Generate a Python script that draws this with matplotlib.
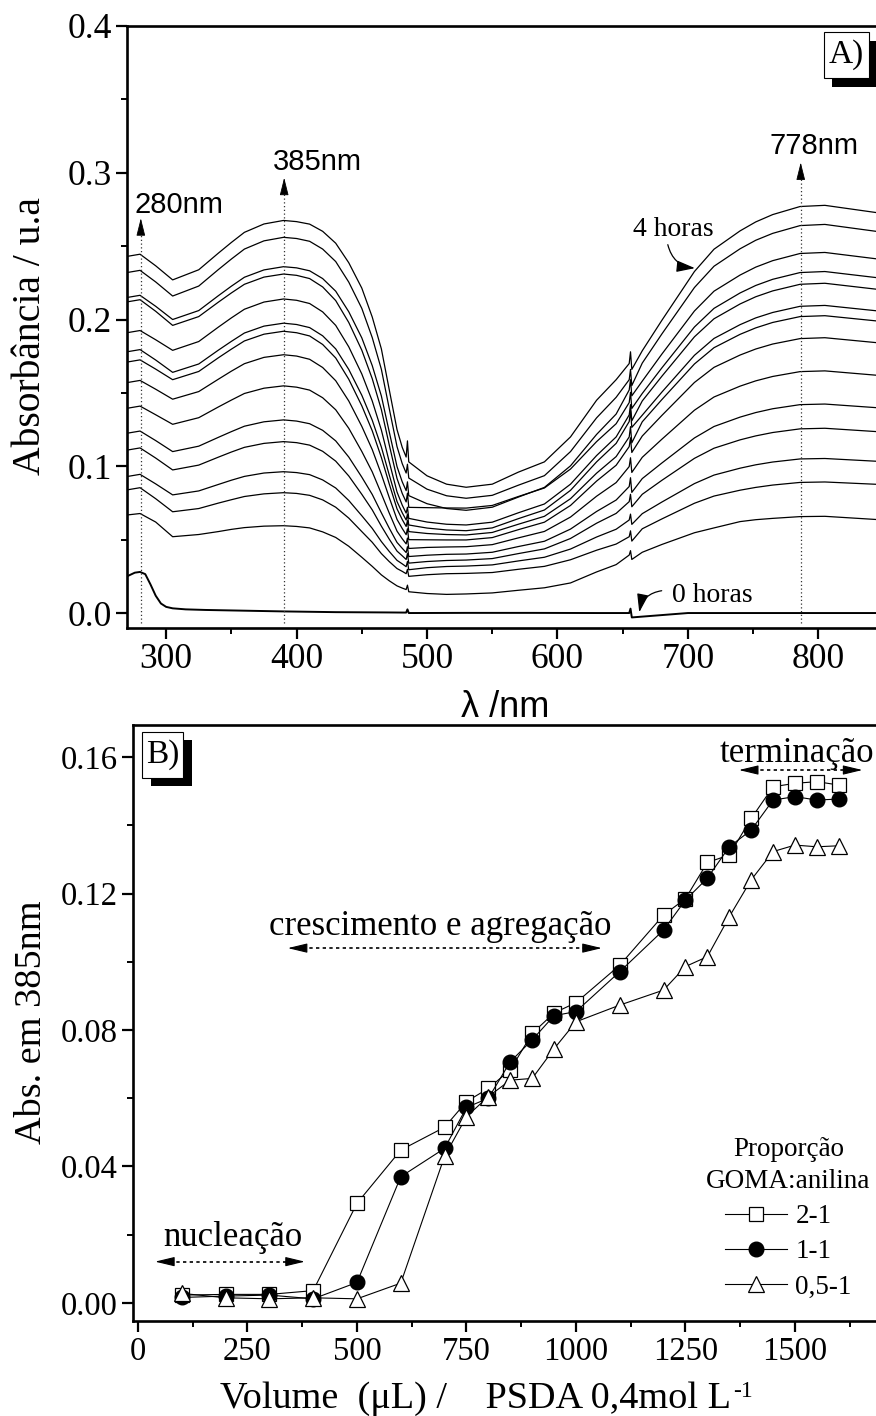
import matplotlib
matplotlib.use('Agg')
import matplotlib.pyplot as plt
from matplotlib.patches import Rectangle
from matplotlib.ticker import MultipleLocator, FormatStrFormatter

plt.rcParams['font.family'] = ['Liberation Serif', 'DejaVu Serif']
SANS = ['Liberation Sans', 'DejaVu Sans']

# ---- panel A: UV-vis spectra, 0 h ... 4 h ----
wl = [270, 280, 292, 305, 325, 340, 350, 360, 375, 390,
      400, 410, 420, 430, 440, 450, 458, 465, 471, 477, 481,
      484, 485, 486, 500, 515, 530, 550, 570, 590, 610, 630, 645,
      655, 656, 657, 665, 680, 705, 720, 740, 752, 765, 786, 805, 845]

t01 = [.243, .2445, .2366, .227, .2339, .2452, .2525, .2594, .2651, .2675,
       .2667, .2650, .2601, .2520, .2387, .2214, .2017, .1800, .1524, .1250, .1129,
       .1063, .1173, .103, .0935, .0878, .0857, .0878, .0960, .1030, .1200, .1450, .1590,
       .170, .178, .166, .1787, .1994, .2327, .2479, .2604, .2665, .2715, .277, .2778, .2728]
t02 = [.232, .2335, .2256, .216, .2228, .234, .2412, .248, .2536, .256,
       .2552, .2533, .2480, .2395, .2255, .2076, .1877, .1661, .1395, .1134, .1018,
       .0954, .1014, .092, .0844, .0799, .0782, .0802, .0871, .0936, .1100, .1330, .1470,
       .159, .166, .155, .1703, .1901, .2218, .2363, .2482, .2540, .2587, .264, .2648, .2600]
t03 = [.215, .2165, .209, .200, .2061, .2162, .2227, .2288, .2338, .236,
       .2352, .2332, .2279, .2193, .2053, .1875, .1686, .1479, .1236, .0998, .0894,
       .0834, .0894, .080, .0745, .0712, .070, .0721, .079, .0856, .1003, .1217, .1356,
       .152, .159, .148, .1580, .1764, .2058, .2193, .2303, .2357, .2401, .245, .2457, .2413]
t04 = [.212, .2135, .2056, .196, .2020, .2118, .2181, .224, .2289, .231,
       .2301, .2279, .2222, .2129, .1980, .1791, .1597, .1386, .1148, .0917, .0815,
       .0757, .0817, .072, .0718, .0716, .0715, .0733, .0794, .0852, .0981, .1168, .1290,
       .1434, .1504, .1394, .1496, .1670, .1949, .2076, .2181, .2232, .2274, .232, .2327, .2285]
t05 = [.191, .1925, .1862, .179, .1850, .1948, .2011, .207, .2119, .214,
       .2131, .2109, .2052, .1960, .1814, .1629, .1445, .1247, .1032, .0825, .0735,
       .0681, .0721, .0645, .0620, .0605, .060, .0619, .0683, .0743, .0878, .1073, .120,
       .135, .142, .131, .1445, .1613, .1882, .2005, .2106, .2155, .2195, .224, .2247, .2206]
t06 = [.178, .1795, .1724, .164, .1697, .1791, .1851, .1908, .1955, .1975,
       .1966, .1945, .1889, .1800, .1660, .1484, .1314, .1131, .0942, .0760, .0683,
       .0634, .0674, .060, .0579, .0566, .0561, .0580, .0643, .0702, .0836, .1030, .1156,
       .1305, .1375, .1265, .1348, .1505, .1756, .1871, .1965, .2011, .2048, .209, .2096, .2059]
t07 = [.171, .1725, .1662, .159, .1646, .1739, .1798, .1854, .1900, .192,
       .1910, .1888, .1830, .1738, .1593, .1412, .1242, .1060, .0881, .0710, .0637,
       .0590, .0630, .0555, .0542, .0535, .0532, .0549, .0605, .0659, .0779, .0953, .1066,
       .120, .127, .116, .1303, .1454, .1697, .1808, .1899, .1943, .1980, .202, .2026, .1990]
t08 = [.157, .1585, .1525, .1457, .1509, .1593, .1648, .1699, .1742, .176,
       .1751, .1729, .1673, .1583, .1445, .1272, .1114, .0945, .0788, .0638, .0576,
       .0534, .0574, .050, .0499, .0498, .0498, .0514, .0568, .0619, .0733, .0899, .1007,
       .1134, .1194, .1094, .1206, .1346, .1571, .1674, .1758, .1799, .1833, .187, .1876, .1842]
t09 = [.1395, .141, .1351, .1286, .1331, .1404, .1451, .1496, .1532, .1548,
       .1539, .1519, .1467, .1385, .1259, .1101, .0962, .0813, .0682, .0558, .0506,
       .0471, .0511, .044, .0447, .0450, .0452, .0466, .0512, .0556, .0654, .0796, .0889,
       .0998, .1058, .0958, .1061, .1184, .1382, .1472, .1546, .1582, .1612, .1645, .1650, .1620]
t10 = [.1225, .124, .1175, .110, .1137, .1197, .1236, .1273, .1303, .1316,
       .1308, .1290, .1245, .1173, .1063, .0926, .0808, .0683, .0579, .0481, .0441,
       .0412, .0452, .0385, .0394, .0400, .0402, .0414, .0453, .0489, .0572, .0692, .0770,
       .0862, .0922, .0822, .0916, .1022, .1193, .1271, .1335, .1366, .1392, .142, .1424, .1399]
t11 = [.111, .1125, .1056, .0975, .1008, .1062, .1097, .1129, .1156, .1168,
       .1161, .1144, .1102, .1035, .0934, .0809, .0703, .0592, .0504, .0422, .039,
       .0365, .0405, .034, .0351, .0358, .0361, .0371, .0405, .0437, .0508, .0612, .0679,
       .0759, .0809, .0724, .0809, .0904, .1054, .1123, .1180, .1207, .1230, .1255, .1259, .1236]
t12 = [.093, .0945, .088, .0805, .0832, .0876, .0905, .0931, .0954, .0963,
       .0957, .0943, .0907, .0852, .0767, .0663, .0577, .0487, .0420, .0359, .0335,
       .0316, .0351, .0295, .0309, .0317, .032, .0328, .0355, .038, .0436, .0518, .0571,
       .0634, .0674, .0604, .0677, .0756, .0882, .0940, .0987, .1010, .1029, .105, .1053, .1034]
t13 = [.0839, .0854, .0779, .069, .0712, .0749, .0772, .0794, .0812, .082,
       .0815, .0802, .0771, .0721, .0647, .0555, .0482, .0405, .0351, .0303, .0284,
       .0268, .0298, .025, .0261, .0268, .027, .0276, .0298, .0318, .0363, .0428, .047,
       .052, .056, .049, .0574, .0641, .0748, .0797, .0837, .0856, .0872, .089, .0893, .0877]
t14 = [.0668, .0678, .062, .052, .0535, .0555, .057, .0582, .0592, .0595,
       .0590, .058, .0553, .0515, .0455, .038, .0318, .026, .022, .0185, .017,
       .016, .019, .0145, .0133, .0127, .013, .0137, .0155, .0172, .0205, .028, .033,
       .0395, .0425, .0365, .0414, .0467, .0547, .0580, .0623, .0636, .0645, .0657, .0659, .0637]

# the 0 h spectrum (own wavelength grid, finer around the 280 nm band)
wl0 = [270, 276, 280, 284, 288, 292, 296, 300, 305, 315, 330, 360, 390, 430, 470,
       484, 485, 486, 530, 580, 630, 655, 656, 657, 700, 845]
t00 = [.025, .0275, .028, .0265, .0195, .0118, .0065, .0042, .0032, .0025, .0021, .0016,
       .0011, .0006, .0004, .0003, .0025, .0, .0001, .0001, .0, .0, .003, -.003, .0, .0]

peaks_nm = [280.6, 390.5, 786.5]
peak_arrow_top = [0.269, 0.2966, 0.307]

# ---- panel B: absorbance at 385 nm vs PSDA volume ----
vol = [100, 200, 300, 400, 500, 600, 700, 750, 800, 850, 900, 950, 1000, 1100, 1200,
       1250, 1300, 1350, 1400, 1450, 1500, 1550, 1600]
abs_2_1 = [0.0023, 0.0025, 0.0025, 0.0036, 0.0292, 0.0448, 0.0515, 0.059, 0.0629, 0.0683,
           0.079, 0.085, 0.088, 0.099, 0.1137, 0.1185, 0.1291, 0.1313, 0.142, 0.1513,
           0.1523, 0.1528, 0.1518]
abs_1_1 = [0.0016, 0.002, 0.0023, 0.0012, 0.006, 0.037, 0.0453, 0.0573, 0.060, 0.0707,
           0.0771, 0.0842, 0.0854, 0.0971, 0.1093, 0.1181, 0.1245, 0.1337, 0.1386, 0.1474,
           0.1484, 0.1474, 0.1477]
abs_05_1 = [0.0028, 0.0015, 0.0012, 0.0015, 0.0012, 0.0058, 0.0430, 0.0546, 0.0605, 0.0653,
            0.0658, 0.0745, 0.0824, 0.0873, 0.0917, 0.0986, 0.1015, 0.1132, 0.124, 0.1323,
            0.1342, 0.1337, 0.134]

W, H = 876, 1416


def style_axes(ax, labelsize):
    ax.spines['right'].set_visible(False)
    for s in ('left', 'bottom', 'top'):
        ax.spines[s].set_linewidth(1.9)
    ax.tick_params(which='major', direction='out', length=8, width=1.6,
                   labelsize=labelsize, pad=3, top=False, right=False)
    ax.tick_params(which='minor', direction='out', length=4.5, width=1.4,
                   top=False, right=False)


def label_box(fig, x0, y0, w, h, dx, dy, s):
    # shadowed panel label, given in figure pixels from the top-left corner
    fig.add_artist(Rectangle(((x0 + dx) / W, 1 - (y0 + h + dy) / H), w / W, h / H,
                             transform=fig.transFigure, fc='k', ec='k', lw=0, zorder=5))
    fig.add_artist(Rectangle((x0 / W, 1 - (y0 + h) / H), w / W, h / H,
                             transform=fig.transFigure, fc='white', ec='k', lw=0.8, zorder=6))
    fig.text((x0 + w / 2) / W, 1 - (y0 + h / 2) / H, s, fontsize=24,
             ha='center', va='center', zorder=7)


def dotted_double_arrow(ax, x0, x1, y, head):
    ax.plot([x0 + head * 0.5, x1 - head * 0.5], [y, y], color='k', lw=1.2, ls=(0, (2, 2)))
    for tip, tail in ((x0, x0 + head), (x1, x1 - head)):
        ax.annotate('', xy=(tip, y), xytext=(tail, y),
                    arrowprops=dict(arrowstyle='-|>,head_length=1.0,head_width=0.24',
                                    mutation_scale=12, lw=0.8, color='k',
                                    shrinkA=0, shrinkB=0))


fig = plt.figure(figsize=(W / 100, H / 100), dpi=100)

# ---------------- A) ----------------
ax1 = fig.add_axes([127 / W, 1 - 628 / H, 749 / W, 602 / H])
for curve in [t01, t02, t03, t04, t05, t06, t07, t08, t09, t10, t11, t12, t13, t14]:
    ax1.plot(wl, curve, color='k', lw=0.9)
ax1.plot(wl0, t00, color='k', lw=1.4)

for x, ytop in zip(peaks_nm, peak_arrow_top):
    ax1.plot([x, x], [-0.0065, ytop - 0.008], color='0.2', lw=0.9, ls=(0, (1, 2)))
    ax1.annotate('', xy=(x, ytop), xytext=(x, ytop - 0.0105),
                 arrowprops=dict(arrowstyle='-|>,head_length=1.0,head_width=0.25',
                                 mutation_scale=11, lw=0.6, color='k',
                                 shrinkA=0, shrinkB=0))
ax1.text(309.7, 0.2727, '280nm', family=SANS, fontsize=21, ha='center', va='baseline')
ax1.text(415.7, 0.302, '385nm', family=SANS, fontsize=21, ha='center', va='baseline')
ax1.text(796.7, 0.313, '778nm', family=SANS, fontsize=21, ha='center', va='baseline')

ax1.text(689, 0.2566, '4 horas', fontsize=20, ha='center', va='baseline')
ax1.annotate('', xy=(705.4, 0.235), xytext=(684.6, 0.251),
             arrowprops=dict(arrowstyle='-|>,head_length=0.8,head_width=0.25',
                             mutation_scale=14, lw=0.9, color='k',
                             connectionstyle='arc3,rad=0.35', shrinkA=0, shrinkB=0))
ax1.text(718.4, 0.0077, '0 horas', fontsize=20, ha='center', va='baseline')
ax1.annotate('', xy=(662.7, 0.0005), xytext=(679.9, 0.0152),
             arrowprops=dict(arrowstyle='-|>,head_length=0.8,head_width=0.25',
                             mutation_scale=14, lw=0.9, color='k',
                             connectionstyle='arc3,rad=0.35', shrinkA=0, shrinkB=0))

ax1.set_xlim(270, 844.2)
ax1.set_ylim(-0.0102, 0.4)
ax1.xaxis.set_major_locator(MultipleLocator(100))
ax1.xaxis.set_minor_locator(MultipleLocator(50))
ax1.yaxis.set_major_locator(MultipleLocator(0.1))
ax1.yaxis.set_minor_locator(MultipleLocator(0.05))
ax1.yaxis.set_major_formatter(FormatStrFormatter('%.1f'))
style_axes(ax1, 25.5)

fig.text(505 / W, 1 - 717 / H, 'λ /nm', family=SANS, fontsize=26,
         ha='center', va='baseline')
fig.text(31 / W, 1 - 336 / H, 'Absorbância / u.a', fontsize=28.5,
         rotation=90, ha='center', va='center')

# ---------------- B) ----------------
ax2 = fig.add_axes([133 / W, 1 - 1321 / H, 743 / W, 596 / H])
ax2.plot(vol, abs_2_1, color='k', lw=0.8, marker='s', ms=9.5, mfc='white',
         mec='k', mew=0.9, label='2-1')
ax2.plot(vol, abs_1_1, color='k', lw=0.8, marker='o', ms=10.5, mfc='k',
         mec='k', label='1-1')
ax2.plot(vol, abs_05_1, color='k', lw=0.8, marker='^', ms=11.5, mfc='white',
         mec='k', mew=0.9, label='0,5-1')

ax2.text(689, 0.1078, 'crescimento e agregação', fontsize=25, ha='center', va='baseline')
dotted_double_arrow(ax2, 342, 1059, 0.104, 38)
ax2.text(1505, 0.1585, 'terminação', fontsize=25, ha='center', va='baseline')
dotted_double_arrow(ax2, 1372, 1654, 0.1562, 38)
ax2.text(217, 0.0167, 'nucleação', fontsize=25, ha='center', va='baseline')
dotted_double_arrow(ax2, 39, 381, 0.0121, 38)

leg = ax2.legend(title='Proporção\nGOMA:anilina', frameon=False, loc='center',
                 bbox_to_anchor=(0.882, 0.172), fontsize=19.5, title_fontsize=19.5,
                 handlelength=2.3, handletextpad=0.3, labelspacing=0.38,
                 borderaxespad=0, borderpad=0)
leg.get_title().set_multialignment('center')
leg.get_title().set_linespacing(1.35)

ax2.set_xlim(-11.4, 1685)
ax2.set_ylim(-0.0053, 0.1694)
ax2.xaxis.set_major_locator(MultipleLocator(250))
ax2.xaxis.set_minor_locator(MultipleLocator(125))
ax2.yaxis.set_major_locator(MultipleLocator(0.04))
ax2.yaxis.set_minor_locator(MultipleLocator(0.02))
ax2.yaxis.set_major_formatter(FormatStrFormatter('%.2f'))
style_axes(ax2, 23.5)

xl = fig.text(220 / W, 1 - 1408 / H, 'Volume  (μL) /    PSDA 0,4mol L',
              fontsize=27.5, ha='left', va='baseline')
bb = xl.get_window_extent(renderer=fig.canvas.get_renderer())
fig.text((bb.x1 + 2) / W, 1 - 1397 / H, '-1', fontsize=17, ha='left', va='baseline')
fig.text(32 / W, 1 - 1022 / H, 'Abs. em 385nm', fontsize=27.5,
         rotation=90, ha='center', va='center')

label_box(fig, 824, 32, 45, 46, 8, 9, 'A)')
label_box(fig, 142, 732, 41, 46, 9, 8, 'B)')

fig.savefig('out.png', dpi=100)
